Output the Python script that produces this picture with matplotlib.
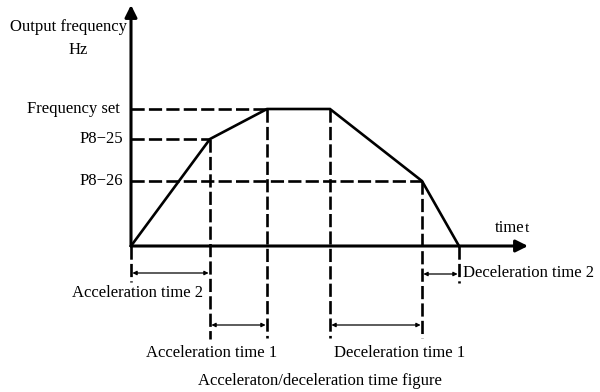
import matplotlib
matplotlib.use("Agg")
import matplotlib.pyplot as plt

# curve break points (time, frequency), arbitrary units
t_pts = [0, 79, 136, 199, 291, 328]
f_pts = [0, 107, 137, 137, 65, 0]

freq_set = 137
p825 = 107
p826 = 65
level_labels = ["Frequency set", "P8\u221225", "P8\u221226"]

# time spans: (start, end, label)
spans = [(0, 79, "Acceleration time 2"),
         (79, 136, "Acceleration time 1"),
         (199, 291, "Deceleration time 1"),
         (291, 328, "Deceleration time 2")]

plt.rcParams['font.family'] = ['Liberation Serif', 'DejaVu Serif']

fig = plt.figure(figsize=(6, 3.92), dpi=100)
ax = fig.add_axes([0, 0, 1, 1])
ax.set_xlim(-131, 469)
ax.set_ylim(-146, 246)
ax.axis('off')

dash = dict(color='black', lw=1.9, ls=(0, (5, 1.6)))

# horizontal dashed guides
ax.plot([0, t_pts[2]], [freq_set, freq_set], **dash)
ax.plot([0, t_pts[1]], [p825, p825], **dash)
ax.plot([0, t_pts[4]], [p826, p826], **dash)

# vertical dashed guides
ax.plot([t_pts[0], t_pts[0]], [0, -36], **dash)
ax.plot([t_pts[1], t_pts[1]], [p825, -93], **dash)
ax.plot([t_pts[2], t_pts[2]], [freq_set, -92], **dash)
ax.plot([t_pts[3], t_pts[3]], [freq_set, -92], **dash)
ax.plot([t_pts[4], t_pts[4]], [p826, -92], **dash)
ax.plot([t_pts[5], t_pts[5]], [0, -37], **dash)

# output curve
ax.plot(t_pts, f_pts, color='black', lw=1.9, solid_joinstyle='miter')

# axes with arrows
ax.annotate('', xy=(0, 241), xytext=(0, 0),
            arrowprops=dict(arrowstyle='-|>', lw=2.2, color='black',
                            mutation_scale=18, shrinkA=0, shrinkB=0))
ax.annotate('', xy=(397, 0), xytext=(0, 0),
            arrowprops=dict(arrowstyle='-|>', lw=2.2, color='black',
                            mutation_scale=18, shrinkA=0, shrinkB=0))

# span arrows
span_y = [-27, -79, -79, -28]
for (a, b, lab), y in zip(spans, span_y):
    ax.annotate('', xy=(b, y), xytext=(a, y),
                arrowprops=dict(arrowstyle='<|-|>', lw=0.9, color='black',
                                mutation_scale=6, shrinkA=1, shrinkB=1))

fs = 12
ax.text(-4, 219, "Output frequency", ha='right', va='center', fontsize=fs)
ax.text(-53, 196, "Hz", ha='center', va='center', fontsize=fs)
for lab, lev, x in zip(level_labels, [freq_set, p825, p826], [-11, -8, -8]):
    ax.text(x, lev, lab, ha='right', va='center', fontsize=fs)

ax.text(364, 18, "time", ha='left', va='center', fontsize=fs)
ax.text(394, 17, "t", ha='left', va='center', fontsize=fs - 1)

ax.text(332, -27, spans[3][2], ha='left', va='center', fontsize=fs)
ax.text(7, -47, spans[0][2], ha='center', va='center', fontsize=fs)
ax.text(81, -107, spans[1][2], ha='center', va='center', fontsize=fs)
ax.text(269, -107, spans[2][2], ha='center', va='center', fontsize=fs)
ax.text(189, -135, "Acceleraton/deceleration time figure", ha='center',
        va='center', fontsize=fs)

fig.savefig("out.png", dpi=100)
